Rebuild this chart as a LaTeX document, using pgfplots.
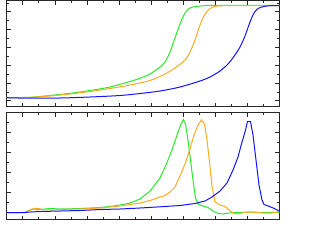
\documentclass[border=0pt]{standalone}
\usepackage{pgfplots}
\pgfplotsset{compat=1.18}
\definecolor{cgreen}{RGB}{40,235,40}
\definecolor{corange}{RGB}{255,170,30}
\definecolor{cblue}{RGB}{20,20,250}
\pgfplotsset{
  panel/.style={
    scale only axis, width=272.6pt,
    xmin=6.7, xmax=279.3,
    axis line style={black!85, line width=0.9pt},
    tick align=inside, tick pos=both,
    xticklabel=\empty, yticklabel=\empty,
    xtick={22.7,54.8,86.9,119,151,183.1,215.2,247.3,279.3},
    minor xtick={6.7,38.7,70.8,102.9,135,167,199.2,231.2,263.3},
    major tick length=4pt, minor tick length=2.5pt,
    every tick/.style={black!85, line width=0.6pt},
    every axis plot/.append style={line width=1pt, no marks},
  }
}
\begin{document}
\begin{tikzpicture}
\path[use as bounding box] (0,0) rectangle (313pt,-250pt);
\begin{axis}[panel, at={(6.7pt,-0.5pt)}, anchor=north west, height=106.2pt,
  ymin=-6, ymax=100.2,
  ytick={0,17.8,35.6,53.4,71.2,89},
  minor ytick={8.9,26.7,44.5,62.3,80.1,97.9}]
\addplot[cgreen, smooth, tension=0.5] coordinates {(6.7,3.0)(30,3.4)(50,5.2)(70,7.4)(90,10.2)(110,13.7)(130,19.2)(140,22.4)(150,26.7)(160,33.7)(165,38.7)(170,48.7)(175,62.7)(180,76.7)(185,87.7)(190,92.7)(200,94.7)(220,95.4)(280,95.2)};
\addplot[corange, smooth, tension=0.5] coordinates {(6.7,3.0)(30,3.4)(50,4.7)(70,6.7)(90,9.2)(110,12.2)(130,15.7)(150,20.2)(165,26.7)(175,32.7)(185,40.7)(190,48.7)(195,60.7)(200,75.7)(205,86.7)(210,92.2)(215,94.2)(225,95)(280,95.2)};
\addplot[cblue, smooth, tension=0.5] coordinates {(6.7,3.0)(30,2.5)(60,2.7)(90,3.7)(120,5.2)(140,7.2)(160,9.7)(180,13.7)(200,19.7)(210,23.7)(220,29.7)(228,36.7)(235,45.7)(240,53.7)(245,64.7)(250,78.7)(254,87.7)(258,92.2)(264,94.2)(270,95)(280,95.2)};
\end{axis}
\begin{axis}[panel, at={(6.7pt,-112.7pt)}, anchor=north west, height=107pt,
  ymin=-7.4, ymax=99.6,
  ytick={0,20,40,60,80},
  minor ytick={10,30,50,70,90}]
\addplot[cgreen] coordinates {(6.7,-0.2)(20,-0.2)(25,0)(32,3.3)(40,2.8)(50,3.8)(60,3.3)(70,3.5)(80,3.8)(90,4.3)(100,4.8)(110,5.8)(120,7.3)(130,9.3)(140,13.3)(150,21.3)(160,34.3)(166,47.3)(172,62.3)(177,77.3)(181,88.3)(183.5,92.8)(185.5,88.3)(188,72.3)(190.5,52.3)(193,32.3)(195.5,14.3)(198,8.3)(203,6.3)(208,4.8)(213,1.3)(218,-1.2)(223,-1.7)(230,-0.5)(240,-0.2)(250,0.3)(260,-0.2)(270,0)(280,-0.2)};
\addplot[corange] coordinates {(6.7,-0.2)(25,-0.2)(30,1.8)(34,3.8)(38,4.0)(42,2.8)(50,2.3)(60,2.8)(70,3.0)(80,3.3)(90,3.8)(100,4.3)(110,5.3)(120,6.3)(130,7.8)(140,9.3)(150,11.8)(160,15.3)(165,16.8)(170,20.3)(175,25.3)(180,36.3)(185,48.3)(190,63.3)(194,77.3)(198,87.3)(201.5,92.3)(204.5,88.3)(207,72.3)(209.5,50.3)(212,26.3)(215,10.3)(220,7.3)(225,5.8)(229,2.3)(234,-1.2)(240,-1.2)(247,0.3)(255,0)(263,-0.7)(272,-0.7)(280,0.8)};
\addplot[cblue] coordinates {(6.7,-0.2)(25,-0.2)(30,0.3)(40,0.8)(60,1.3)(80,1.8)(100,2.8)(120,3.3)(140,4.3)(160,5.5)(180,6.8)(195,8.8)(205,11.3)(212,15.3)(220,21.3)(227,29.3)(233,42.3)(238,55.3)(242,70.3)(245,80.3)(247.5,90.8)(250.5,90.8)(253,77.3)(256,52.3)(259,27.3)(262,12.3)(264,7.8)(269,6)(274,4)(280,0.8)};
\end{axis}
\end{tikzpicture}
\end{document}
